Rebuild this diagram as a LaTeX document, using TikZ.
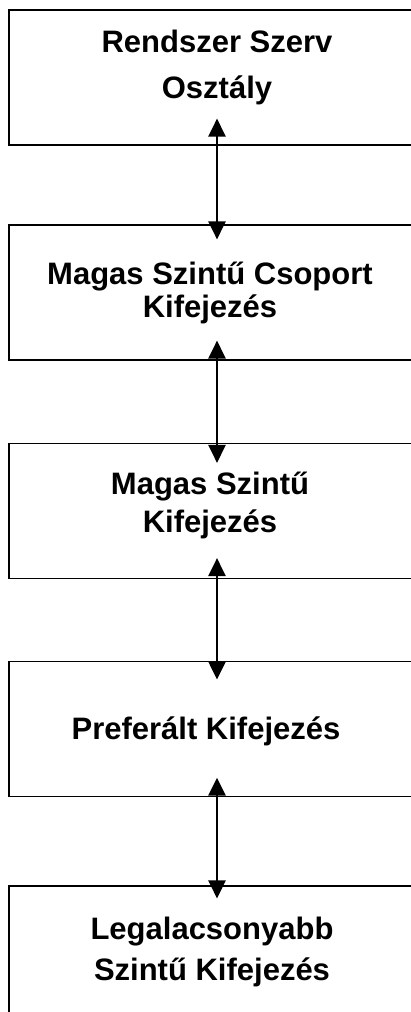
\documentclass[tikz,border=0pt]{standalone}
\usepackage{fontspec}
\setmainfont{Liberation Sans}
\usetikzlibrary{arrows.meta}
\begin{document}
\begin{tikzpicture}[x=0.75pt,y=-0.75pt,
  level/.style={draw,line width=1pt,minimum width=312pt,minimum height=101.25pt,inner sep=0pt},
  lbl/.style={font=\fontsize{23.25}{#1}\selectfont\bfseries,align=center,inner sep=0pt},
  link/.style={{Triangle[width=13pt,length=13.5pt]}-{Triangle[width=13pt,length=13.5pt]},line width=1.5pt}]
\useasboundingbox (0,0) rectangle (410,1012);
% boxes
\node[level] (sysbox) at (217,77.5) {};
\node[level] (groupbox) at (217,292.5) {};
\node[level] (highbox) at (217,511) {};
\node[level] (prefbox) at (217,729) {};
\node[level] (lowbox) at (217,953.5) {};
% texts
\node[lbl=34.5pt] (syslbl) at (217,67.9) {Rendszer Szerv\\Osztály};
\node[lbl=24.75pt] (grouplbl) at (210,292.5) {Magas Szintű Csoport\\Kifejezés};
\node[lbl=28.5pt] (highlbl) at (210,505) {Magas Szintű\\Kifejezés};
\node[lbl=28pt] (preflbl) at (206,731) {Preferált Kifejezés};
\node[lbl=30.75pt] (lowlbl) at (212,952) {Legalacsonyabb\\Szintű Kifejezés};
% arrows
\draw[link] ([yshift=20.25pt]sysbox.south) -- ([yshift=-11.25pt]groupbox.north);
\draw[link] ([yshift=15pt]groupbox.south) -- ([yshift=-15pt]highbox.north);
\draw[link] ([yshift=15.75pt]highbox.south) -- ([yshift=-13.9pt]prefbox.north);
\draw[link] ([yshift=14.6pt]prefbox.south) -- ([yshift=-9.75pt]lowbox.north);
\end{tikzpicture}
\end{document}
